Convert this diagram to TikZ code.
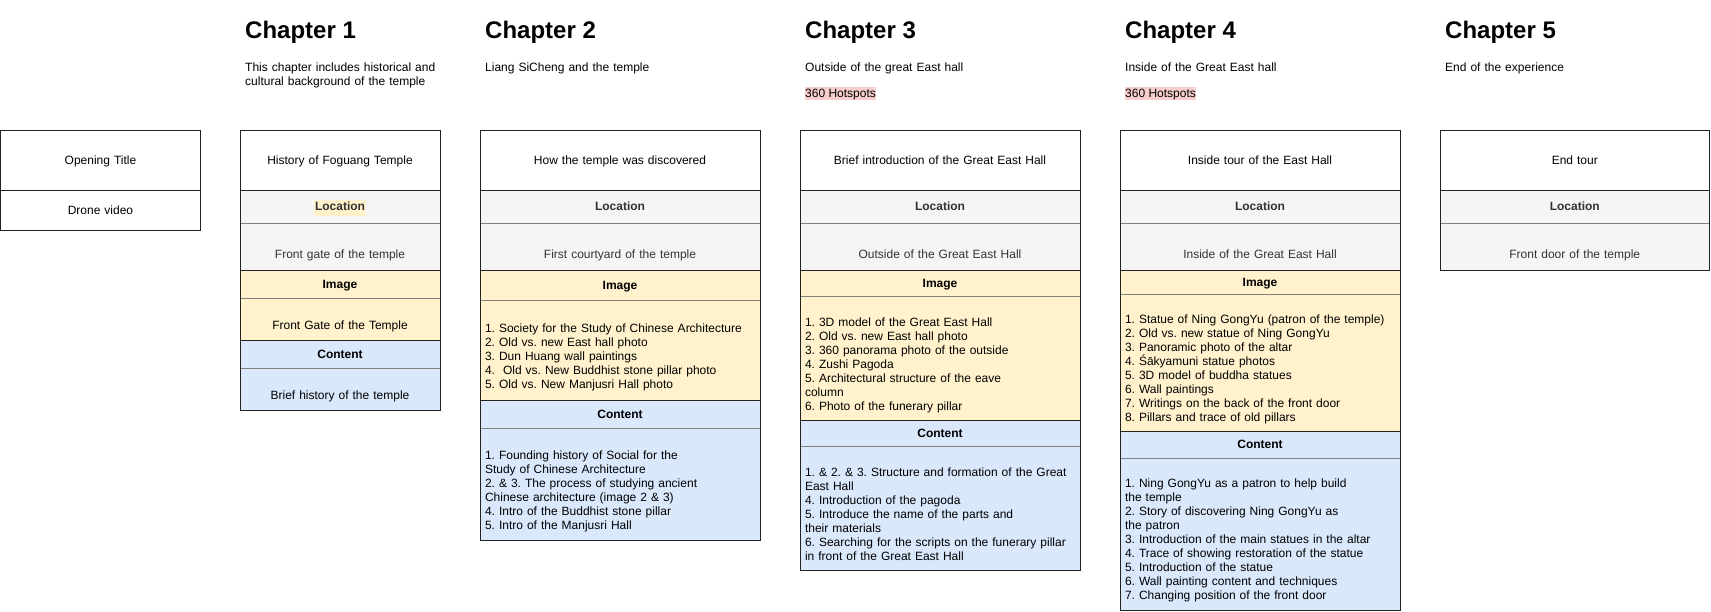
\documentclass[tikz,border=0pt]{standalone}
\usepackage{fontspec}
\setmainfont{Liberation Sans}
\usepackage{tikz}
\usetikzlibrary{positioning}
\definecolor{framecol}{HTML}{222222}
\definecolor{divcol}{HTML}{808080}
\definecolor{locfill}{HTML}{F5F5F5}
\definecolor{loctext}{HTML}{333333}
\definecolor{imgfill}{HTML}{FFF2CC}
\definecolor{cntfill}{HTML}{DAE8FC}
\definecolor{hotfill}{HTML}{F8CECC}
\newcommand{\bodyfont}{\fontsize{12}{14}\selectfont}
\setlength{\fboxsep}{1pt}
\frenchspacing
\tikzset{
  cell/.style={draw=framecol, line width=1pt, outer sep=0pt,
    inner xsep=5pt, inner ysep=0pt, align=center, font=\bodyfont,
    execute at begin node=\strut},
  titlebox/.style={cell, minimum height=#1, text height=11.8pt, text depth=2.2pt},
  titlebox/.default=60pt,
  hdr/.style={cell, font=\bodyfont\bfseries, minimum height=#1,
    text height=10.8pt, text depth=3.2pt},
  body/.style={cell, minimum height=#1,
    execute at begin node={\strut\\}, execute at end node=\strut},
  locbody/.style={cell, minimum height=#1, fill=locfill, text=loctext,
    execute at begin node={\rule{0pt}{12.8pt}\\}, execute at end node=\strut},
  loc/.style={fill=locfill, text=loctext},
  img/.style={fill=imgfill},
  cnt/.style={fill=cntfill},
  list/.style={align=left},
  divider/.style={draw=divcol, line width=1pt, shorten <=0.5pt, shorten >=0.5pt},
  chap/.style={anchor=base west, inner sep=0pt, font=\fontsize{24}{28}\selectfont\bfseries},
  desc/.style={anchor=north west, inner sep=0pt, align=left, text width=230pt,
    font=\bodyfont, execute at begin node=\strut},
  hot/.style={anchor=base west, inner sep=0pt, fill=hotfill, font=\bodyfont,
    text height=10.5pt, text depth=2.5pt}
}

\begin{document}
\begin{tikzpicture}[x=1pt, y=-1pt]
    \path[use as bounding box, fill=white] (0,0) rectangle (1711,611);

    % headings
    \node[chap] (h1) at (245,38) {Chapter 1};
    \node[chap] (h2) at (485,38) {Chapter 2};
    \node[chap] (h3) at (805,38) {Chapter 3};
    \node[chap] (h4) at (1125,38) {Chapter 4};
    \node[chap] (h5) at (1445,38) {Chapter 5};
    \node[desc] (d1) at (245,61.2) {This chapter includes historical and\\cultural background of the temple};
    \node[desc] (d2) at (485,61.2) {Liang SiCheng and the temple};
    \node[desc] (d3) at (805,61.2) {Outside of the great East hall};
    \node[desc] (d4) at (1125,61.2) {Inside of the Great East hall};
    \node[desc] (d5) at (1445,61.2) {End of the experience};
    \node[hot] (s3) at (805,97) {360 Hotspots};
    \node[hot] (s4) at (1125,97) {360 Hotspots};

    % opening
    \begin{scope}[every node/.append style={text width=190pt}]
    \node[titlebox, anchor=north west] (c0-top) at (0.5,130) {Opening Title};
    \node[titlebox=40pt, below=0pt of c0-top] (c0-video) {Drone video};
    \end{scope}

    % chapter 1
    \begin{scope}[every node/.append style={text width=190pt}]
    \node[titlebox, anchor=north west] (c1-top) at (240,130) {History of Foguang Temple};
    \node[hdr=33.5pt, loc, below=0pt of c1-top] (c1-loch) {\colorbox{imgfill}{\strut Location}};
    \node[locbody=47pt, below=0pt of c1-loch] (c1-loc) {Front gate of the temple};
    \node[hdr=28pt, img, below=0pt of c1-loc] (c1-imgh) {Image};
    \node[body=42pt, img, below=0pt of c1-imgh] (c1-img) {Front Gate of the Temple};
    \node[hdr=28pt, cnt, below=0pt of c1-img] (c1-cnth) {Content};
    \node[body=41.5pt, cnt, below=0pt of c1-cnth] (c1-cnt) {Brief history of the temple};
    \end{scope}

    % chapter 2
    \begin{scope}[every node/.append style={text width=270pt}]
    \node[titlebox, anchor=north west] (c2-top) at (480,130) {How the temple was discovered};
    \node[hdr=33.5pt, loc, below=0pt of c2-top] (c2-loch) {Location};
    \node[locbody=47pt, below=0pt of c2-loch] (c2-loc) {First courtyard of the temple};
    \node[hdr=30pt, img, below=0pt of c2-loc] (c2-imgh) {Image};
    \node[body=100pt, img, list, below=0pt of c2-imgh] (c2-img) {1. Society for the Study of Chinese Architecture\\
      2. Old vs. new East hall photo\\3. Dun Huang wall paintings\\
      4.\ \ Old vs. New Buddhist stone pillar photo\\5. Old vs. New Manjusri Hall photo};
    \node[hdr=28pt, cnt, below=0pt of c2-img] (c2-cnth) {Content};
    \node[body=111.5pt, cnt, list, below=0pt of c2-cnth] (c2-cnt) {1. Founding history of Social for the\\
      Study of Chinese Architecture\\2. \& 3. The process of studying ancient\\
      Chinese architecture (image 2 \& 3)\\4. Intro of the Buddhist stone pillar\\
      5. Intro of the Manjusri Hall};
    \end{scope}

    % chapter 3
    \begin{scope}[every node/.append style={text width=270pt}]
    \node[titlebox, anchor=north west] (c3-top) at (800,130) {Brief introduction of the Great East Hall};
    \node[hdr=33.5pt, loc, below=0pt of c3-top] (c3-loch) {Location};
    \node[locbody=47pt, below=0pt of c3-loch] (c3-loc) {Outside of the Great East Hall};
    \node[hdr=26pt, img, below=0pt of c3-loc] (c3-imgh) {Image};
    \node[body=124pt, img, list, below=0pt of c3-imgh] (c3-img) {1. 3D model of the Great East Hall\\
      2. Old vs. new East hall photo\\3. 360 panorama photo of the outside\\
      4. Zushi Pagoda\\5. Architectural structure of the eave\\column\\
      6. Photo of the funerary pillar};
    \node[hdr=26pt, cnt, below=0pt of c3-img] (c3-cnth) {Content};
    \node[body=124pt, cnt, list, below=0pt of c3-cnth] (c3-cnt) {1. \& 2. \& 3. Structure and formation of the Great\\
      East Hall\\4. Introduction of the pagoda\\5. Introduce the name of the parts and\\
      their materials\\6. Searching for the scripts on the funerary pillar\\
      in front of the Great East Hall};
    \end{scope}

    % chapter 4
    \begin{scope}[every node/.append style={text width=270pt}]
    \node[titlebox, anchor=north west] (c4-top) at (1120,130) {Inside tour of the East Hall};
    \node[hdr=33.5pt, loc, below=0pt of c4-top] (c4-loch) {Location};
    \node[locbody=47pt, below=0pt of c4-loch] (c4-loc) {Inside of the Great East Hall};
    \node[hdr=24pt, img, below=0pt of c4-loc] (c4-imgh) {Image};
    \node[body=137pt, img, list, below=0pt of c4-imgh] (c4-img) {1. Statue of Ning GongYu (patron of the temple)\\
      2. Old vs. new statue of Ning GongYu\\3. Panoramic photo of the altar\\
      4. Śākyamuni statue photos\\5. 3D model of buddha statues\\6. Wall paintings\\
      7. Writings on the back of the front door\\8. Pillars and trace of old pillars};
    \node[hdr=26.5pt, cnt, below=0pt of c4-img] (c4-cnth) {Content};
    \node[body=152pt, cnt, list, below=0pt of c4-cnth] (c4-cnt) {1. Ning GongYu as a patron to help build\\
      the temple\\2. Story of discovering Ning GongYu as\\the patron\\
      3. Introduction of the main statues in the altar\\
      4. Trace of showing restoration of the statue\\5. Introduction of the statue\\
      6. Wall painting content and techniques\\7. Changing position of the front door};
    \end{scope}

    % chapter 5
    \begin{scope}[every node/.append style={text width=259.5pt}]
    \node[titlebox, anchor=north west] (c5-top) at (1440,130) {End tour};
    \node[hdr=33.5pt, loc, below=0pt of c5-top] (c5-loch) {Location};
    \node[locbody=47pt, below=0pt of c5-loch] (c5-loc) {Front door of the temple};
    \end{scope}

    % grey lines under the headers
    \foreach \c in {c1,c2,c3,c4}
      \foreach \s in {loch,imgh,cnth}
        \draw[divider] (\c-\s.south west) -- (\c-\s.south east);
    \draw[divider] (c5-loch.south west) -- (c5-loch.south east);
\end{tikzpicture}
\end{document}
